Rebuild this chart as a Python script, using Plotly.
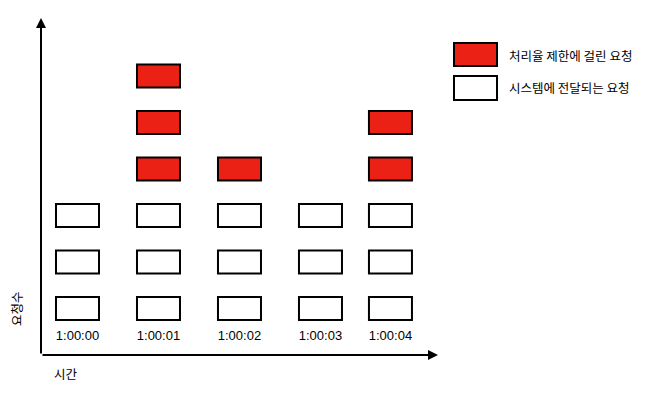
import plotly.graph_objects as go

# ---- data ----
times = ["1:00:00", "1:00:01", "1:00:02", "1:00:03", "1:00:04"]
delivered = [3, 3, 3, 3, 3]      # 시스템에 전달되는 요청
limited = [0, 3, 1, 0, 2]        # 처리율 제한에 걸린 요청
legend_limited = "처리율 제한에 걸린 요청"
legend_delivered = "시스템에 전달되는 요청"
x_title = "시간"
y_title = "요청수"

# ---- layout constants ----
col_pos = [0, 1, 2, 3, 3.864]
RED = "#ec2115"
BOX_W = 0.531
BOX_H = 0.495
ROW0 = 0.752
FONT = "Liberation Sans, Arial, Noto Sans CJK KR, sans-serif"
KFONT = "Noto Sans CJK KR, sans-serif"

fig = go.Figure()

def boxes(start_counts, counts, color, name):
    xs, bases = [], []
    for i, n in enumerate(counts):
        for k in range(n):
            xs.append(col_pos[i])
            bases.append(ROW0 + start_counts[i] + k)
    fig.add_trace(go.Bar(
        x=xs, y=[BOX_H] * len(xs), base=bases, width=BOX_W, name=name,
        marker=dict(color=color, line=dict(color="black", width=2)),
        showlegend=False, hoverinfo="skip"))

boxes([0] * len(times), delivered, "white", legend_delivered)
boxes(delivered, limited, RED, legend_limited)

fig.add_trace(go.Scatter(
    x=col_pos, y=[0.39] * len(times), text=times, mode="text",
    textfont=dict(family=FONT, size=13, color="#000000"),
    showlegend=False, hoverinfo="skip"))

def px_x(p):
    return (p - 41) / 397

def px_y(p):
    return (355 - p) / 337

annotations = [
    dict(x=0, y=1, xref="paper", yref="paper", ax=0, ay=337, text="",
         showarrow=True, arrowhead=2, arrowsize=1, arrowwidth=2, arrowcolor="black",
         standoff=0, startstandoff=0),
    dict(x=1, y=0, xref="paper", yref="paper", ax=-397, ay=0, text="",
         showarrow=True, arrowhead=2, arrowsize=1, arrowwidth=2, arrowcolor="black",
         standoff=0, startstandoff=0),
    dict(x=px_x(52), y=px_y(373), xref="paper", yref="paper",
         text=x_title, showarrow=False, xanchor="left", yanchor="middle",
         font=dict(family=KFONT, size=12.5, color="#000000")),
    dict(x=px_x(16), y=px_y(309), xref="paper", yref="paper",
         text=y_title, showarrow=False, textangle=-90, xanchor="center", yanchor="middle",
         font=dict(family=KFONT, size=12.5, color="#000000")),
    dict(x=px_x(507), y=px_y(55), xref="paper", yref="paper",
         text=legend_limited, showarrow=False, xanchor="left", yanchor="middle",
         font=dict(family=KFONT, size=12.5, color="#000000")),
    dict(x=px_x(507), y=px_y(88), xref="paper", yref="paper",
         text=legend_delivered, showarrow=False, xanchor="left", yanchor="middle",
         font=dict(family=KFONT, size=12.5, color="#000000")),
]

shapes = [
    dict(type="rect", xref="paper", yref="paper",
         x0=px_x(454), x1=px_x(497), y0=px_y(66), y1=px_y(43),
         fillcolor=RED, line=dict(color="black", width=2)),
    dict(type="rect", xref="paper", yref="paper",
         x0=px_x(454), x1=px_x(497), y0=px_y(100), y1=px_y(76),
         fillcolor="white", line=dict(color="black", width=2)),
]

fig.update_layout(
    width=648, height=393,
    margin=dict(l=41, r=210, t=18, b=38),
    paper_bgcolor="white", plot_bgcolor="white",
    font=dict(color="#000000"),
    barmode="overlay",
    xaxis=dict(range=[-0.4506, 4.451], visible=False, fixedrange=True),
    yaxis=dict(range=[0, 337 / 46.5], visible=False, fixedrange=True),
    annotations=annotations, shapes=shapes,
    showlegend=False,
)

fig.write_html("out.html")
